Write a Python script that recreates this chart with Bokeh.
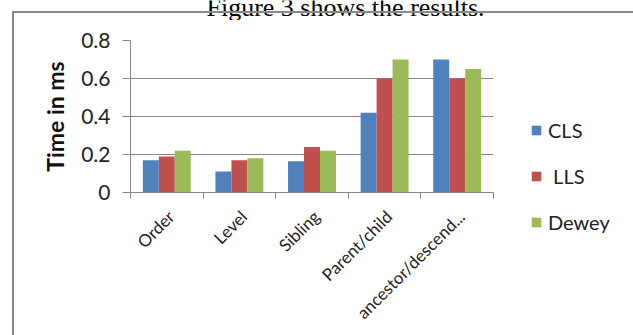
from math import pi
from bokeh.plotting import figure
from bokeh.layouts import column, row
from bokeh.models import (Range1d, FixedTicker, Legend, LegendItem, Label, ColumnDataSource,
                          InlineStyleSheet)
from bokeh.embed import file_html
from bokeh.resources import INLINE

# ---- data ----
categories = ["Order", "Level", "Sibling", "Parent/child", "ancestor/descend..."]
series_names = ["CLS", " LLS", "Dewey"]
cls_values = [0.17, 0.11, 0.165, 0.42, 0.70]
lls_values = [0.19, 0.17, 0.24, 0.60, 0.60]
dewey_values = [0.22, 0.18, 0.22, 0.70, 0.65]
y_ticks = [0, 0.2, 0.4, 0.6, 0.8]
y_tick_labels = ["0", "0.2", "0.4", "0.6", "0.8"]
y_axis_title = "Time in ms"
caption = "Figure 3 shows the results."

colors = ["#4F81BD", "#C0504D", "#9BBB59"]
grid_gray = "#868686"
font = "Lato"

# ---- layout (pixels) ----
W, H = 633, 335
strip_h = 20                 # caption strip at the top of the page
chart_w, legend_w = 525, 108
chart_h = H - strip_h

n = len(categories)
y_max = y_ticks[-1]
centers = [i + 0.5 for i in range(n)]
label_pos = [c + 0.06 for c in centers]     # rotated labels sit slightly right of centre
bounds = list(range(n + 1))

sources = [ColumnDataSource(dict(x=[cx + off for cx in centers], top=vals))
           for vals, off in zip([cls_values, lls_values, dewey_values], [-0.22, 0.0, 0.22])]
bar_w = 0.22


def no_align(fig):
    if "frame_align" in fig.properties():
        fig.frame_align = False


# ---- caption strip ----
cap = figure(width=W, height=strip_h, output_backend="svg", toolbar_location=None,
             x_axis_location=None, y_axis_location=None, min_border=0,
             x_range=Range1d(0, 1), y_range=Range1d(0, 1))
cap.outline_line_color = None
cap.grid.visible = False
no_align(cap)
cap.add_layout(Label(x=345, y=strip_h - 6.5, x_units="screen", y_units="screen", text=caption,
                     text_font="Liberation Serif", text_font_size="26px", text_align="center",
                     text_baseline="alphabetic", text_color="black"))

# ---- chart ----
p = figure(x_range=Range1d(0, n), y_range=Range1d(0, y_max),
           width=chart_w, height=chart_h, output_backend="svg", toolbar_location=None,
           min_border_left=130, min_border_right=32, min_border_top=20, min_border_bottom=143)
p.outline_line_color = None
p.background_fill_color = "white"
p.border_fill_color = "white"
no_align(p)

renderers = []
for src, c in zip(sources, colors):
    renderers.append(p.vbar(x="x", top="top", width=bar_w, source=src, fill_color=c, line_color=None))

p.xgrid.grid_line_color = None
p.ygrid.ticker = FixedTicker(ticks=y_ticks)
p.ygrid.grid_line_color = grid_gray

p.yaxis.ticker = FixedTicker(ticks=y_ticks)
p.yaxis.major_label_overrides = {t: l for t, l in zip(y_ticks, y_tick_labels)}
p.yaxis.major_label_text_font = font
p.yaxis.major_label_text_font_size = "21px"
p.yaxis.major_label_text_color = "#222222"
p.yaxis.major_label_standoff = 12
p.yaxis.major_tick_out = 8
p.yaxis.major_tick_in = 0
p.yaxis.minor_tick_line_color = None
p.yaxis.axis_line_color = grid_gray
p.yaxis.major_tick_line_color = grid_gray
p.yaxis.axis_label = y_axis_title
p.yaxis.axis_label_text_font = font
p.yaxis.axis_label_text_font_style = "bold"
p.yaxis.axis_label_text_font_size = "23px"
p.yaxis.axis_label_text_color = "#111111"
p.yaxis.axis_label_standoff = 9

p.xaxis.ticker = FixedTicker(ticks=label_pos, minor_ticks=bounds)
p.xaxis.major_label_overrides = {c: name for c, name in zip(label_pos, categories)}
p.xaxis.major_tick_line_color = None
p.xaxis.major_tick_out = 0
p.xaxis.major_tick_in = 0
p.xaxis.minor_tick_out = 6
p.xaxis.minor_tick_in = 0
p.xaxis.minor_tick_line_color = grid_gray
p.xaxis.axis_line_color = grid_gray
p.xaxis.major_label_orientation = pi / 4
p.xaxis.major_label_text_font = font
p.xaxis.major_label_text_font_size = "17px"
p.xaxis.major_label_text_color = "#222222"
p.xaxis.major_label_standoff = 15

# ---- legend panel ----
lg = figure(width=legend_w, height=chart_h, output_backend="svg", toolbar_location=None,
            x_axis_location=None, y_axis_location=None, min_border=0,
            x_range=Range1d(-20, -19), y_range=Range1d(0, 1))
lg.outline_line_color = None
lg.grid.visible = False
no_align(lg)
lg_renderers = [lg.vbar(x="x", top="top", width=bar_w, source=src, fill_color=c, line_color=None)
                for src, c in zip(sources, colors)]
legend = Legend(items=[LegendItem(label=s, renderers=[r]) for s, r in zip(series_names, lg_renderers)],
                location=(5, 101), orientation="vertical", padding=0, margin=0,
                glyph_width=12, glyph_height=12, label_height=20, spacing=22,
                label_text_font=font, label_text_font_size="20px", label_text_color="#222222",
                label_standoff=6, border_line_color=None, background_fill_alpha=0)
lg.add_layout(legend)

layout = column(cap, row(p, lg, spacing=0), spacing=0)

# gray chart border (left and top edges of the chart box)
layout.stylesheets = [InlineStyleSheet(css="""
:host::after {
  content: ""; position: absolute; left: 12px; top: 11px; width: 621px; height: 324px;
  border-left: 2px solid #8a8a8a; border-top: 2px solid #8a8a8a; box-sizing: border-box;
  pointer-events: none; z-index: 10;
}
""")]

open("out.html", "w").write(file_html(layout, INLINE))
